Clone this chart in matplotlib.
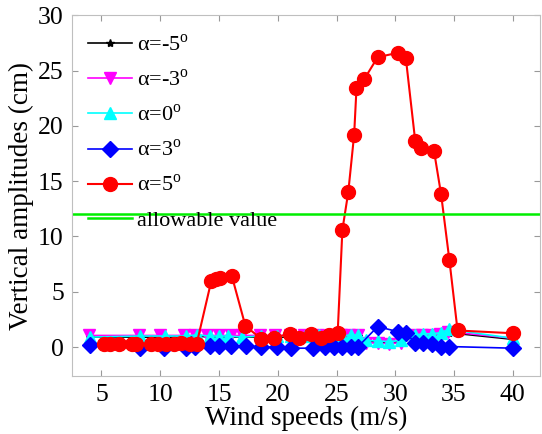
import matplotlib
matplotlib.use("Agg")
import matplotlib.pyplot as plt

plt.rcParams["font.family"] = ["Liberation Serif", "DejaVu Serif"]
plt.rcParams["mathtext.fontset"] = "custom"
plt.rcParams["mathtext.rm"] = "Liberation Serif"

# wind speeds (m/s) and vertical amplitudes (cm)
x_m5 = [4.0, 8.3, 10.4, 12.2, 13.1, 14.2, 15.0, 15.8, 17.0, 18.6, 19.9, 21.1, 22.3, 23.5,
        24.6, 25.5, 26.2, 26.8, 27.5, 28.5, 29.5, 30.5, 31.7, 32.4, 33.1, 33.85, 34.55, 40.0]
y_m5 = [0.9, 0.9, 0.9, 0.9, 1.0, 0.9, 0.9, 0.9, 0.9, 0.9, 0.9, 0.9, 0.9, 1.0,
        1.0, 0.9, 1.0, 1.0, 0.5, 0.45, 0.4, 0.5, 1.0, 1.0, 1.0, 1.1, 1.3, 0.7]

x_m3 = [3.9, 8.2, 10.0, 12.0, 13.0, 14.0, 15.0, 16.0, 17.0, 18.5, 19.8, 21.0, 22.2, 23.4,
        24.5, 25.4, 26.1, 26.8, 27.5, 28.5, 29.5, 30.5, 31.6, 32.3, 33.0, 33.8, 34.5, 40.0]
y_m3 = [1.05, 1.05, 1.05, 1.05, 1.05, 1.05, 1.05, 1.05, 1.05, 1.05, 1.05, 1.05, 1.05, 1.1,
        1.1, 1.05, 1.1, 1.1, 0.4, 0.35, 0.3, 0.4, 1.05, 1.1, 1.1, 1.2, 1.4, 0.8]

x_0 = [4.0, 8.3, 10.4, 12.2, 13.1, 14.2, 15.0, 15.8, 17.0, 18.6, 19.9, 21.1, 22.3, 23.5,
       24.6, 25.5, 26.2, 26.8, 27.5, 28.5, 29.5, 30.5, 31.7, 32.4, 33.1, 33.85, 34.55, 40.0]
y_0 = [0.9, 1.0, 1.0, 1.0, 1.1, 1.0, 1.0, 1.0, 0.9, 1.0, 1.0, 1.0, 1.0, 1.1,
       1.1, 1.0, 1.1, 1.1, 0.6, 0.55, 0.5, 0.6, 1.1, 1.2, 1.2, 1.3, 1.6, 0.8]

x_3 = [4.0, 8.3, 10.3, 12.2, 13.0, 14.2, 15.0, 16.0, 17.3, 18.6, 19.9, 21.1, 23.0, 24.0,
       24.8, 25.5, 26.2, 26.8, 28.5, 30.2, 30.9, 31.7, 32.4, 33.1, 33.85, 34.55, 40.0]
y_3 = [0.2, -0.1, -0.1, -0.1, 0.0, 0.1, 0.1, 0.1, 0.1, 0.0, 0.0, -0.1, -0.1, 0.0,
       0.0, 0.0, 0.0, 0.0, 1.85, 1.4, 1.3, 0.35, 0.35, 0.3, 0.05, 0.05, -0.1]

x_5 = [5.2, 5.7, 6.5, 7.6, 7.9, 9.2, 9.8, 10.5, 11.2, 11.8, 12.5, 13.1, 14.35, 14.75,
       15.1, 16.1, 17.25, 18.6, 19.7, 21.0, 21.8, 22.8, 23.7, 24.4, 25.1, 25.5, 26.0, 26.5,
       26.7, 27.35, 28.5, 30.2, 30.9, 31.7, 32.2, 33.3, 33.9, 34.6, 35.3, 40.0]
y_5 = [0.3, 0.3, 0.3, 0.3, 0.3, 0.3, 0.3, 0.3, 0.3, 0.35, 0.3, 0.3, 6.0, 6.15,
       6.2, 6.4, 1.9, 0.75, 0.85, 1.2, 0.85, 1.2, 0.85, 1.05, 1.3, 10.6, 14.0, 19.2,
       23.4, 24.2, 26.2, 26.6, 26.1, 18.6, 17.95, 17.7, 13.8, 7.9, 1.5, 1.25]

allowable = 12.0

fig = plt.figure(figsize=(5.42, 4.34), dpi=100)
ax = fig.add_axes([0.133, 0.134, 0.863, 0.831])

ax.plot(x_m5, y_m5, color="black", marker="*", ms=6, lw=1.2, label=r"α=-5$^\mathrm{o}$")
ax.plot(x_m3, y_m3, color="#ff00ff", marker="v", ms=9, lw=1.2, label=r"α=-3$^\mathrm{o}$")
ax.plot(x_0, y_0, color="#00ffff", marker="^", ms=9, lw=1.2, label=r"α=0$^\mathrm{o}$")
ax.plot(x_3, y_3, color="#0000ff", marker="D", ms=8.5, lw=1.2, label=r"α=3$^\mathrm{o}$")
ax.plot(x_5, y_5, color="#ff0000", marker="o", ms=10, lw=1.5, label=r"α=5$^\mathrm{o}$")
ax.axhline(allowable, color="#00ee00", lw=1.8, label="allowable value")

ax.set_xlim(2.5, 42.3)
ax.set_ylim(-2.6, 30)
ax.set_xticks(range(5, 41, 5))
ax.set_yticks(range(0, 31, 5))
ax.tick_params(direction="in", length=4, color="0.6", labelsize=18.5,
               top=True, right=True, pad=6)
for s in ax.spines.values():
    s.set_color("0.75")
ax.set_xlabel("Wind speeds (m/s)", fontsize=19.5, labelpad=0)
ax.set_ylabel("Vertical amplitudes (cm)", fontsize=19.5, labelpad=3)

ax.legend(loc="upper left", frameon=False, fontsize=16, handlelength=2.0,
          handletextpad=0.2, labelspacing=0.62, borderaxespad=0.3,
          bbox_to_anchor=(0.0, 0.99))

fig.savefig("out.png", dpi=100)
